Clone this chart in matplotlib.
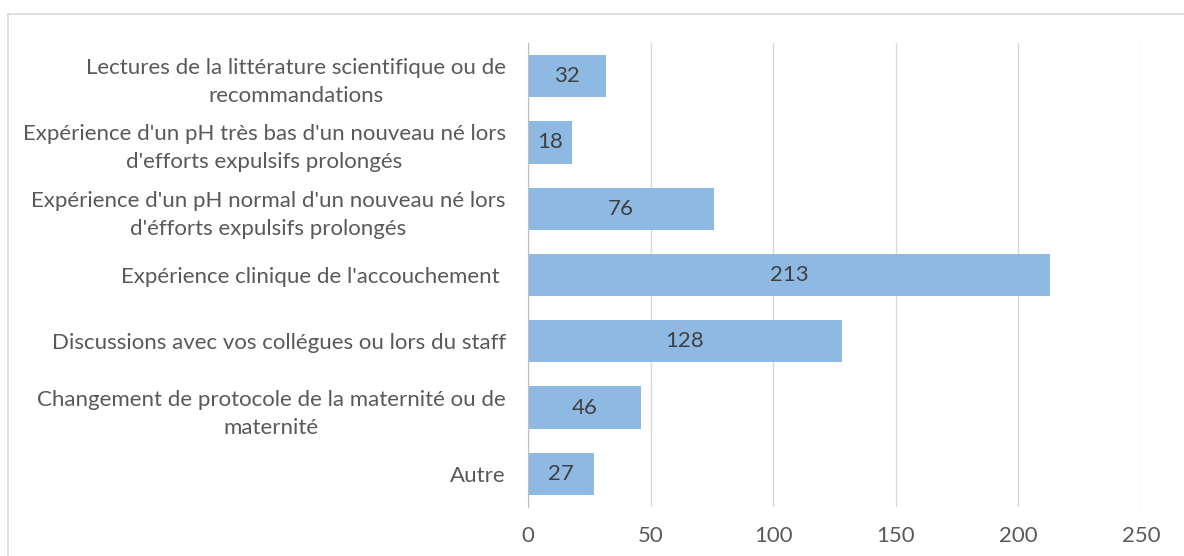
import matplotlib.pyplot as plt
from matplotlib.patches import Rectangle

# categories, top to bottom as in the chart
categories = [
    "Lectures de la littérature scientifique ou de\nrecommandations",
    "Expérience d'un pH très bas d'un nouveau né lors\nd'efforts expulsifs prolongés",
    "Expérience d'un pH normal d'un nouveau né lors\nd'éfforts expulsifs prolongés",
    "Expérience clinique de l'accouchement ",
    "Discussions avec vos collégues ou lors du staff",
    "Changement de protocole de la maternité ou de\nmaternité",
    "Autre",
]
values = [32, 18, 76, 213, 128, 46, 27]
xticks = [0, 50, 100, 150, 200, 250]

BAR_COLOR = "#8DB9E3"
TEXT_COLOR = "#595959"
GRID_COLOR = "#D9D9D9"
FS = 16

plt.rcParams['font.family'] = ['Lato', 'DejaVu Sans']

fig = plt.figure(figsize=(11.84, 5.56), dpi=100)
ax = fig.add_axes([528 / 1184, 1 - 507 / 556, (1141 - 528) / 1184, (507 - 43) / 556])

pos = list(range(len(categories)))
ax.barh(pos, values, height=0.64, color=BAR_COLOR, zorder=2)

for p, v in zip(pos, values):
    ax.text(v / 2, p, str(v), ha='center', va='center', fontsize=FS, color="#404040", zorder=3)

ax.set_xlim(0, 250)
ax.set_ylim(len(categories) - 0.5, -0.5)
ax.set_xticks(xticks)
ax.set_xticklabels([str(t) for t in xticks])
ax.set_yticks(pos)
ax.set_yticklabels(categories, multialignment='center', linespacing=1.5)

ax.grid(axis='x', color=GRID_COLOR, linewidth=1, zorder=0)
for s in ['top', 'right', 'bottom']:
    ax.spines[s].set_visible(False)
ax.spines['left'].set_color("#BFBFBF")
ax.spines['left'].set_zorder(4)
ax.tick_params(axis='both', length=0, labelsize=FS, colors=TEXT_COLOR)
ax.tick_params(axis='y', pad=16)
ax.tick_params(axis='x', pad=14)

# chart border, cut by the image edge on the right and bottom
fig.patches.append(Rectangle((8 / 1184, -0.01), 1.1, 1 - 14 / 556 + 0.01,
                             transform=fig.transFigure, fill=False,
                             edgecolor=GRID_COLOR, linewidth=1.2))

fig.savefig("out.png", dpi=100)
